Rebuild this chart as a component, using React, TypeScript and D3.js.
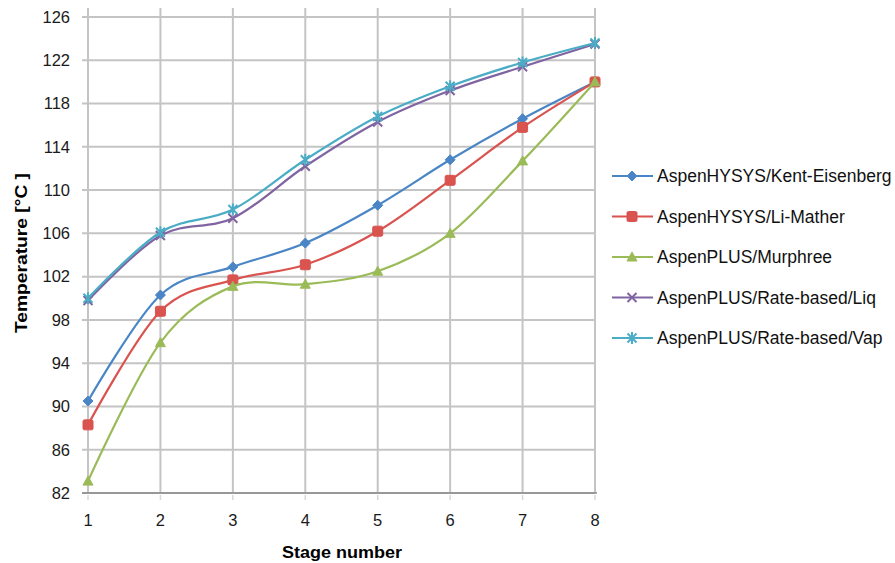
import * as d3 from "d3";
import { useEffect, useRef } from "react";

// stage numbers on the x axis
const stages = [1, 2, 3, 4, 5, 6, 7, 8];
const yTicks = [82, 86, 90, 94, 98, 102, 106, 110, 114, 118, 122, 126];

const seriesNames = [
    "AspenHYSYS/Kent-Eisenberg",
    "AspenHYSYS/Li-Mather",
    "AspenPLUS/Murphree",
    "AspenPLUS/Rate-based/Liq",
    "AspenPLUS/Rate-based/Vap",
];

const kentEisenberg = [90.5, 100.3, 102.9, 105.1, 108.6, 112.8, 116.6, 120.0];
const liMather = [88.3, 98.8, 101.7, 103.1, 106.2, 110.9, 115.8, 120.0];
const murphree = [83.1, 95.9, 101.1, 101.3, 102.5, 106.0, 112.7, 120.0];
const rateLiq = [99.8, 105.8, 107.4, 112.2, 116.3, 119.2, 121.4, 123.5];
const rateVap = [100.0, 106.1, 108.2, 112.8, 116.8, 119.6, 121.8, 123.6];

const colors = ["#4a86c5", "#d9534f", "#9bbb59", "#8064a2", "#4bacc6"];
const markers = ["diamond", "square", "triangle", "cross", "star"];

function drawMarker(g: any, kind: string, x: number, y: number, color: string) {
    if (kind === "diamond") {
        g.append("path").attr("d", `M${x},${y - 5}L${x + 5},${y}L${x},${y + 5}L${x - 5},${y}Z`)
            .attr("fill", color).attr("stroke", color);
    } else if (kind === "square") {
        g.append("rect").attr("x", x - 5).attr("y", y - 5).attr("width", 10).attr("height", 10)
            .attr("rx", 1.5).attr("fill", color).attr("stroke", color);
    } else if (kind === "triangle") {
        g.append("path").attr("d", `M${x},${y - 5}L${x + 5},${y + 4}L${x - 5},${y + 4}Z`)
            .attr("fill", color).attr("stroke", color);
    } else if (kind === "cross") {
        g.append("path").attr("d", `M${x - 4.5},${y - 4.5}L${x + 4.5},${y + 4.5}M${x - 4.5},${y + 4.5}L${x + 4.5},${y - 4.5}`)
            .attr("stroke", color).attr("stroke-width", 2).attr("fill", "none");
    } else {
        g.append("path").attr("d", `M${x - 4.5},${y - 4.5}L${x + 4.5},${y + 4.5}M${x - 4.5},${y + 4.5}L${x + 4.5},${y - 4.5}M${x},${y - 6}L${x},${y + 6}`)
            .attr("stroke", color).attr("stroke-width", 2).attr("fill", "none");
    }
}

export default function App() {
    const ref = useRef<SVGSVGElement>(null);

    useEffect(() => {
        const svg = d3.select(ref.current!);
        svg.selectAll("*").remove();

        const x = d3.scaleLinear().domain([1, 8]).range([88, 595]);
        const y = d3.scaleLinear().domain([82, 126]).range([493, 17]);
        const font = "'Liberation Sans', sans-serif";

        // gridlines
        const grid = svg.append("g");
        grid.selectAll("line.h").data(yTicks).join("line")
            .attr("x1", x(1) - 6).attr("x2", x(8))
            .attr("y1", d => y(d)).attr("y2", d => y(d))
            .attr("stroke", "#c4c4c4").attr("stroke-width", 2);
        grid.selectAll("line.v").data(stages).join("line")
            .attr("class", "v")
            .attr("x1", d => x(d)).attr("x2", d => x(d))
            .attr("y1", y(126) - 9).attr("y2", y(82))
            .attr("stroke", "#c4c4c4").attr("stroke-width", 2);
        // bottom axis line + small ticks
        grid.append("line").attr("x1", x(1) - 6).attr("x2", x(8) + 2)
            .attr("y1", y(82)).attr("y2", y(82)).attr("stroke", "#8a8a8a").attr("stroke-width", 1.5);
        grid.selectAll("line.t").data(stages).join("line")
            .attr("class", "t")
            .attr("x1", d => x(d)).attr("x2", d => x(d))
            .attr("y1", y(82) + 2).attr("y2", y(82) + 7)
            .attr("stroke", "#d8d8d8").attr("stroke-width", 1.5);

        // tick labels
        svg.append("g").selectAll("text").data(yTicks).join("text")
            .attr("x", 70).attr("y", d => y(d)).attr("dy", "0.35em")
            .attr("text-anchor", "end")
            .style("font-family", font)
            .style("font-size", "16.5px").attr("fill", "#1a1a1a")
            .text(d => d);
        svg.append("g").selectAll("text").data(stages).join("text")
            .attr("x", d => x(d)).attr("y", 520).attr("dy", "0.35em")
            .attr("text-anchor", "middle")
            .style("font-family", font)
            .style("font-size", "16.5px").attr("fill", "#1a1a1a")
            .text(d => d);

        // axis titles
        svg.append("text").attr("x", 282).attr("y", 552).attr("dy", "0.35em")
            .attr("textLength", 120).attr("lengthAdjust", "spacingAndGlyphs")
            .style("font-family", font)
            .style("font-size", "16px").style("font-weight", "bold")
            .text("Stage number");
        svg.append("text").attr("transform", "translate(21,333) rotate(-90)")
            .attr("dy", "0.35em")
            .attr("textLength", 160).attr("lengthAdjust", "spacingAndGlyphs")
            .style("font-family", font)
            .style("font-size", "16px").style("font-weight", "bold")
            .text("Temperature [°C ]");

        const allSeries = [kentEisenberg, liMather, murphree, rateLiq, rateVap];
        const line = d3.line<number>()
            .x((_, i) => x(stages[i]))
            .y(d => y(d))
            .curve(d3.curveCardinal.tension(0));

        allSeries.forEach((vals, si) => {
            const g = svg.append("g");
            g.append("path").attr("d", line(vals))
                .attr("fill", "none").attr("stroke", colors[si]).attr("stroke-width", 2.2);
            vals.forEach((v, i) => drawMarker(g, markers[si], x(stages[i]), y(v), colors[si]));
        });

        // legend
        const legend = svg.append("g");
        seriesNames.forEach((name, i) => {
            const ly = 176 + i * 40.5;
            legend.append("line").attr("x1", 612).attr("x2", 653).attr("y1", ly).attr("y2", ly)
                .attr("stroke", colors[i]).attr("stroke-width", 2.2);
            drawMarker(legend, markers[i], 632, ly, colors[i]);
            legend.append("text").attr("x", 657).attr("y", ly).attr("dy", "0.35em")
                .style("font-family", font)
                .style("font-size", "17.5px").attr("fill", "#111")
                .text(name);
        });
    }, []);

    return (
        <div style={{ position: "absolute", left: 0, top: 0 }}>
            <svg ref={ref} width={895} height={563} style={{ background: "#fff", display: "block" }} />
        </div>
    );
}
